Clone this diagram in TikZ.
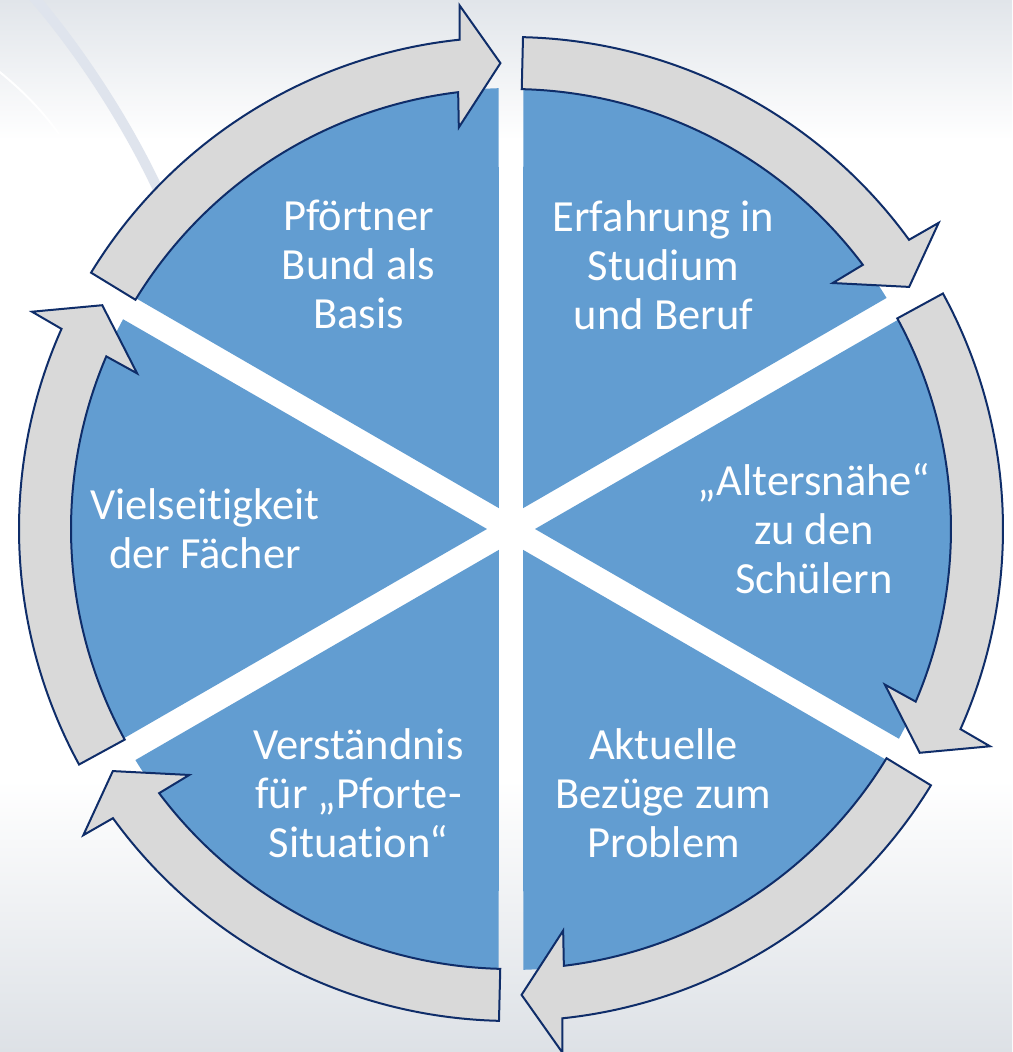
\documentclass[tikz,border=0pt]{standalone}
\usepackage{fontspec}
\setmainfont[Ligatures=NoCommon]{Carlito}
\definecolor{pieblue}{HTML}{629DD1}
\definecolor{ringgray}{HTML}{D9D9D9}
\definecolor{ringline}{HTML}{0F2D69}
\definecolor{bgtop}{HTML}{E1E5EA}
\definecolor{bgbottom}{HTML}{DDE1E6}
\definecolor{swoosh}{HTML}{DFE4ED}
\tikzset{
  sector/.style={fill=pieblue},
  ringarrow/.style={fill=ringgray, draw=ringline, line width=2, line join=miter},
  label/.style={text=white, align=center, font=\fontsize{44.5}{49}\selectfont}
}
\begin{document}
\begin{tikzpicture}[x=1pt, y=1pt]
				% Background
				\useasboundingbox (-511,-523) rectangle (501,529);
				\fill[white] (-511,-523) rectangle (501,529);
				\shade[top color=bgtop, bottom color=white] (-511,389) rectangle (501,529);
				\shade[top color=white, bottom color=bgbottom] (-511,-523) rectangle (501,-251);
				\draw[swoosh, line width=10] (-480,535) .. controls (-432,480) and (-375,395) .. (-340,310);
				\draw[white, line width=2] (-515,460) .. controls (-490,440) and (-470,420) .. (-452,395);

				% Sectors
				\fill[sector] (120:24) -- (91.6:441) arc[start angle=91.6, end angle=148.4, radius=441] -- cycle;
				\fill[sector] (60:24) -- (31.6:441) arc[start angle=31.6, end angle=88.4, radius=441] -- cycle;
				\fill[sector] (0:24) -- (-28.4:441) arc[start angle=-28.4, end angle=28.4, radius=441] -- cycle;
				\fill[sector] (-60:24) -- (-88.4:441) arc[start angle=-88.4, end angle=-31.6, radius=441] -- cycle;
				\fill[sector] (-120:24) -- (-148.4:441) arc[start angle=-148.4, end angle=-91.6, radius=441] -- cycle;
				\fill[sector] (180:24) -- (151.6:441) arc[start angle=151.6, end angle=208.4, radius=441] -- cycle;

				% Ring arrows
				\draw[ringarrow] (148.6:492) arc[start angle=148.6, end angle=96, radius=492] -- (95.6:526) -- (91.3:466) -- (97.4:405) -- (96.9:440) arc[start angle=96.9, end angle=148.6, radius=440] -- cycle;
				\draw[ringarrow] (88.6:492) arc[start angle=88.6, end angle=36, radius=492] -- (35.6:526) -- (31.3:466) -- (37.4:405) -- (36.9:440) arc[start angle=36.9, end angle=88.6, radius=440] -- cycle;
				\draw[ringarrow] (28.6:492) arc[start angle=28.6, end angle=-24, radius=492] -- (-24.4:526) -- (-28.7:466) -- (-22.6:405) -- (-23.1:440) arc[start angle=-23.1, end angle=28.6, radius=440] -- cycle;
				\draw[ringarrow] (-31.4:492) arc[start angle=-31.4, end angle=-84, radius=492] -- (-84.4:526) -- (-88.7:466) -- (-82.6:405) -- (-83.1:440) arc[start angle=-83.1, end angle=-31.4, radius=440] -- cycle;
				\draw[ringarrow] (-91.4:492) arc[start angle=-91.4, end angle=-144, radius=492] -- (-144.4:526) -- (-148.7:466) -- (-142.6:405) -- (-143.1:440) arc[start angle=-143.1, end angle=-91.4, radius=440] -- cycle;
				\draw[ringarrow] (208.6:492) arc[start angle=208.6, end angle=156, radius=492] -- (155.6:526) -- (151.3:466) -- (157.4:405) -- (156.9:440) arc[start angle=156.9, end angle=208.6, radius=440] -- cycle;

				% Labels
				\node[label] (basis) at (120:305) {Pförtner\\Bund als\\Basis};
				\node[label] (erfahrung) at (60:305) {Erfahrung in\\Studium\\und Beruf};
				\node[label] (altersnaehe) at (0:303) {„Altersnähe“\\zu den\\Schülern};
				\node[label] (bezuege) at (300:305) {Aktuelle\\Bezüge zum\\Problem};
				\node[label] (verstaendnis) at (240:305) {Verständnis\\für „Pforte-\\Situation“};
				\node[label] (vielseitigkeit) at (180:306) {Vielseitigkeit\\der Fächer};
\end{tikzpicture}
\end{document}
